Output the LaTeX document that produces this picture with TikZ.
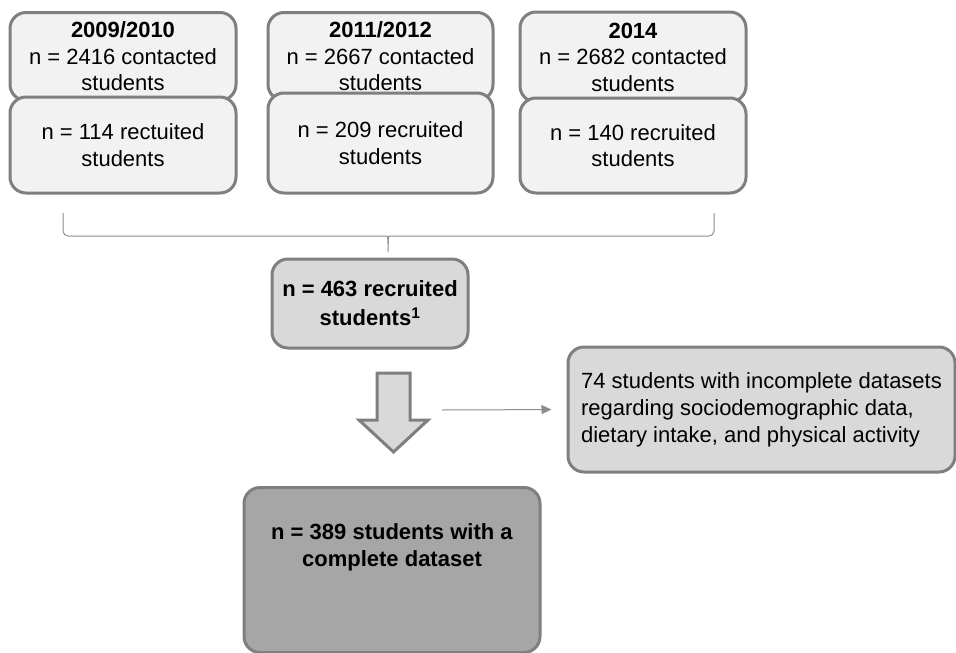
\documentclass[tikz,border=0pt]{standalone}
\usepackage{fontspec}
\setmainfont{Liberation Sans}
\usetikzlibrary{arrows.meta}
\definecolor{edgegray}{HTML}{7F7F7F}
\definecolor{boxlight}{HTML}{F2F2F2}
\definecolor{boxmid}{HTML}{D9D9D9}
\definecolor{boxdark}{HTML}{A6A6A6}
\definecolor{thinline}{HTML}{8C8C8C}
\tikzset{
  basebox/.style={draw=edgegray, line width=3pt, rounded corners=16pt, inner sep=0pt, align=center, font=\fontsize{22}{26.5}\selectfont},
  topbox/.style={basebox, fill=boxlight},
  midbox/.style={basebox, fill=boxmid},
  darkbox/.style={basebox, fill=boxdark},
  plaintext/.style={inner sep=0pt, align=center, font=\fontsize{22}{27}\selectfont},
  thin/.style={draw=thinline, line width=1pt},
}
\begin{document}
\begin{tikzpicture}[x=1pt,y=-1pt]
\useasboundingbox (0,0) rectangle (956,653);

% column 1
\node[topbox, minimum width=226pt, minimum height=88pt] (a1) at (123,56.5) {\textbf{2009/2010}\\n = 2416 contacted\\students};
\node[topbox, minimum width=226pt, minimum height=96pt] (b1) at (123,145) {n = 114 rectuited\\students};
% column 2
\node[topbox, minimum width=225pt, minimum height=88pt] (a2) at (380.5,56.5) {\textbf{2011/2012}\\n = 2667 contacted\\students};
\node[topbox, minimum width=225pt, minimum height=100pt] (b2) at (380.5,143) {n = 209 recruited\\students};
% column 3
\node[topbox, minimum width=226pt, minimum height=90pt] (a3) at (633,57) {\textbf{2014}\\n = 2682 contacted\\students};
\node[topbox, minimum width=226pt, minimum height=95pt] (b3) at (633,145.5) {n = 140 recruited\\students};

% brace
\coordinate (brL) at (63,213);
\coordinate (brR) at (714,213);
\coordinate (brT) at (388,252);
\draw[thin, rounded corners=5pt] (brL) -- (63,236) -- (382,236) .. controls (387,236) and (388,239) .. (388,244) -- (brT);
\draw[thin, rounded corners=5pt] (brR) -- (714,236) -- (394,236) .. controls (389,236) and (388,239) .. (388,244);

% merged box
\node[midbox, minimum width=196pt, minimum height=89pt, font=\fontsize{22}{29}\selectfont] (m) at (370,303.5) {\textbf{n = 463 recruited}\\\textbf{students\textsuperscript{1}}};

% block arrow
\draw[draw=edgegray, fill=boxmid, line width=3pt, line join=miter]
  (377,373) -- (410,373) -- (410,420) -- (428,420) -- (393.5,452) -- (359,420) -- (377,420) -- cycle;

% excluded box
\node[midbox, minimum width=387pt, minimum height=125pt, align=left, font=\fontsize{22}{27}\selectfont] (ex) at (761.5,409.5) {74 students with incomplete datasets\\regarding sociodemographic data,\\dietary intake, and physical activity};

% thin arrow
\coordinate (ta) at (442,410);
\draw[thin, -{Triangle[length=10pt,width=9pt]}, shorten >=15pt] (ta) -- (ex.west);

% final box
\node[darkbox, minimum width=296pt, minimum height=165pt] (f) at (392,570) {};
\node[plaintext] (ft) at (392,547) {\textbf{n = 389 students with a}\\\textbf{complete dataset}};
\end{tikzpicture}
\end{document}
